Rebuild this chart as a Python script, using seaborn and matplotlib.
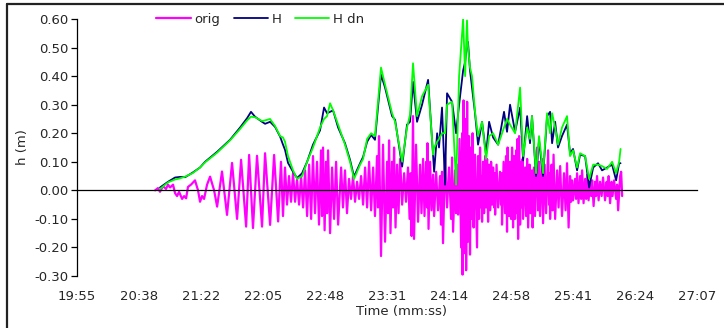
import numpy as np
import pandas as pd
import matplotlib
matplotlib.use("Agg")
import matplotlib.pyplot as plt
import seaborn as sns
from matplotlib.lines import Line2D

# =========================
# DATA  (time = seconds after the 19:55 axis start, h in m)
# =========================
tick_labels = ["19:55", "20:38", "21:22", "22:05", "22:48", "23:31",
               "24:14", "24:58", "25:41", "26:24", "27:07"]
tick_step = 43.2

orig_t = [
    54.4, 56.4, 57.8, 59.9, 62.0, 63.4, 64.8, 66.9, 68.3, 69.7, 71.1, 73.2,
    74.6, 76.0, 77.3, 79.4, 82.2, 84.3, 85.7, 87.1, 88.5, 90.6, 92.7, 95.5,
    97.6, 101.0, 104.5, 108.0, 111.5, 114.3, 117.8, 119.9, 122.6, 125.4, 128.9, 131.0,
    134.5, 137.3, 140.1, 142.1, 143.5, 144.9, 146.3, 147.7, 149.1, 150.5, 151.9, 153.3,
    154.7, 156.1, 157.5, 158.9, 160.3, 161.7, 163.1, 164.4, 165.8, 167.2, 168.6, 170.0,
    170.7, 171.4, 172.5, 173.5, 174.2, 174.9, 176.3, 177.7, 179.1, 180.5, 181.9, 184.0,
    185.3, 186.7, 188.1, 189.5, 190.9, 192.3, 193.7, 195.1, 196.5, 197.9, 199.3, 200.7,
    202.1, 203.5, 204.9, 206.3, 207.6, 209.0, 209.7, 210.4, 211.8, 213.2, 214.6, 216.0,
    216.7, 217.4, 218.4, 219.5, 220.2, 220.9, 221.9, 223.0, 224.0, 225.1, 226.5, 227.9,
    229.2, 230.6, 231.7, 232.4, 233.1, 234.1, 234.8, 236.2, 237.6, 239.0, 240.0, 241.1,
    242.1, 243.2, 243.9, 244.2, 244.9, 246.0, 247.0, 248.1, 248.8, 250.2, 251.5, 252.9,
    253.6, 254.3, 255.0, 256.4, 257.8, 259.2, 260.6, 261.3, 262.0, 263.4, 264.1, 264.8,
    265.5, 266.5, 267.6, 268.3, 268.6, 269.3, 270.0, 270.7, 271.1, 271.8, 272.4, 273.1,
    273.8, 274.5, 275.2, 275.6, 276.3, 277.3, 278.7, 279.4, 280.1, 280.8, 281.5, 281.9,
    282.2, 282.9, 283.6, 284.3, 285.0, 285.7, 286.4, 287.1, 287.8, 288.5, 289.2, 289.9,
    290.6, 290.9, 291.3, 292.3, 293.4, 294.7, 295.4, 295.8, 296.1, 297.2, 298.2, 298.9,
    299.6, 300.0, 301.0, 301.7, 302.4, 303.1, 303.8, 304.5, 305.2, 305.9, 306.6, 306.9,
    307.3, 308.0, 308.7, 309.4, 310.1, 310.4, 310.8, 312.2, 312.9, 313.6, 314.3, 315.3,
    316.0, 317.0, 317.4, 318.4, 319.1, 320.5, 321.2, 321.9, 322.6, 324.0, 324.7, 325.8,
    326.8, 328.2, 328.9, 329.2, 329.6, 330.6, 331.3, 332.0, 333.1, 334.5, 335.5, 336.6,
    337.9, 339.3, 340.4, 341.4, 342.5, 343.5, 344.2, 344.9, 345.6, 347.0, 347.7, 348.4,
    349.4, 350.5, 351.2, 351.9, 352.9, 354.0, 354.7, 355.4, 356.4, 357.5, 358.2, 358.9,
    359.9, 361.0, 361.6, 362.3, 363.4, 364.4, 365.5, 366.5, 367.9, 369.0, 369.7, 370.4,
    371.4, 372.4, 373.1, 374.2, 375.6, 376.3, 377.0, 378.4, 379.1, 379.8,
]
orig_h = [
    0.0, 0.008, -0.005, 0.015, 0.005, 0.02, 0.01, 0.02, -0.01, -0.02, -0.005, -0.03,
    -0.02, -0.028, 0.012, 0.02, 0.035, 0.0, -0.04, -0.02, -0.03, 0.02, 0.048, 0.0,
    -0.057, 0.066, -0.086, 0.096, -0.10, 0.107, -0.127, 0.124, -0.132, 0.121, -0.127, 0.13,
    -0.121, 0.124, -0.109, 0.10, -0.09, 0.08, -0.05, 0.05, -0.04, 0.06, -0.04, 0.04,
    -0.05, 0.05, -0.06, 0.07, -0.09, 0.09, -0.10, 0.12, -0.08, 0.10, -0.12, 0.14,
    -0.09, 0.15, -0.14, 0.10, -0.08, 0.14, -0.15, 0.08, -0.10, 0.10, -0.12, 0.08,
    -0.06, 0.07, -0.08, 0.04, -0.03, 0.05, -0.04, 0.03, -0.03, 0.05, -0.05, 0.08,
    -0.06, 0.10, -0.07, 0.08, -0.09, 0.12, -0.06, 0.19, -0.23, 0.16, -0.18, 0.10,
    -0.08, 0.175, -0.15, 0.10, -0.06, 0.15, -0.13, 0.09, -0.08, 0.11, -0.05, 0.06,
    -0.04, 0.08, -0.10, 0.06, -0.16, 0.26, -0.17, 0.16, -0.11, 0.09, -0.08, 0.11,
    -0.09, 0.10, -0.06, 0.165, -0.135, 0.10, -0.07, 0.055, -0.09, 0.065, -0.07, 0.05,
    -0.12, 0.065, -0.185, 0.115, -0.06, 0.08, -0.10, 0.115, -0.145, 0.07, -0.08, 0.09,
    -0.085, 0.18, -0.20, 0.20, -0.295, 0.315, -0.22, 0.25, -0.28, 0.31, -0.18, 0.19,
    -0.225, 0.15, -0.10, 0.20, -0.13, 0.125, -0.20, 0.12, -0.10, 0.15, -0.06, 0.05,
    -0.11, 0.10, -0.08, 0.12, -0.06, 0.11, -0.11, 0.09, -0.07, 0.10, -0.05, 0.08,
    -0.06, 0.06, -0.085, 0.09, -0.06, 0.065, -0.05, 0.06, -0.12, 0.10, -0.08, 0.12,
    -0.145, 0.15, -0.09, 0.10, -0.10, 0.15, -0.13, 0.12, -0.10, 0.14, -0.08, 0.18,
    -0.17, 0.19, -0.12, 0.10, -0.06, 0.11, -0.10, 0.08, -0.09, 0.11, -0.13, 0.09,
    -0.08, 0.07, -0.13, 0.08, -0.09, 0.15, -0.07, 0.10, -0.09, 0.11, -0.115, 0.09,
    -0.08, 0.14, -0.05, 0.06, -0.10, 0.09, -0.07, 0.125, -0.10, 0.07, -0.06, 0.085,
    -0.09, 0.06, -0.07, 0.095, -0.13, 0.05, -0.04, 0.035, -0.035, 0.04, -0.03, 0.06,
    -0.045, 0.05, -0.03, 0.07, -0.045, 0.04, -0.03, 0.055, -0.035, 0.03, -0.02, 0.035,
    -0.055, 0.03, -0.02, 0.05, -0.035, 0.03, -0.02, 0.045, -0.035, 0.03, -0.02, 0.05,
    -0.045, 0.03, -0.02, 0.035, -0.03, 0.02, -0.07, 0.05, 0.065, -0.02,
]

h_t = [
    57.8, 63.4, 68.3, 71.8, 75.3, 80.5, 85.7, 89.2, 97.6, 106.6, 113.6, 118.5,
    121.2, 124.0, 128.9, 131.0, 134.5, 138.0, 141.5, 143.5, 144.9, 147.0, 150.5, 153.3,
    156.8, 160.3, 164.4, 169.3, 172.1, 174.2, 176.3, 178.4, 181.9, 186.7, 190.2, 193.0,
    197.2, 199.3, 202.1, 204.9, 207.6, 211.8, 214.6, 219.5, 221.6, 226.5, 229.9, 232.0,
    234.1, 236.9, 240.4, 244.6, 248.1, 248.8, 250.9, 252.2, 254.3, 256.4, 257.8, 261.3,
    264.1, 266.2, 269.0, 270.4, 271.7, 272.4, 273.8, 275.2, 277.3, 279.4, 282.2, 285.0,
    287.1, 289.9, 293.4, 297.5, 299.6, 301.7, 305.2, 308.7, 310.8, 313.6, 315.6, 317.0,
    319.8, 321.9, 324.7, 327.5, 329.6, 331.0, 333.1, 335.1, 337.9, 341.4, 343.5, 345.6,
    348.4, 350.5, 354.0, 356.8, 359.6, 363.0, 365.8, 369.3, 372.8, 375.6, 377.7, 378.7,
]
h_H = [
    0.01, 0.03, 0.045, 0.047, 0.046, 0.062, 0.08, 0.10, 0.135, 0.177, 0.22, 0.253,
    0.275, 0.258, 0.24, 0.233, 0.24, 0.222, 0.188, 0.16, 0.142, 0.096, 0.065, 0.043,
    0.06, 0.10, 0.16, 0.21, 0.29, 0.27, 0.275, 0.28, 0.22, 0.165, 0.107, 0.048,
    0.095, 0.117, 0.17, 0.194, 0.177, 0.405, 0.36, 0.26, 0.247, 0.083, 0.23, 0.24,
    0.38, 0.24, 0.30, 0.387, 0.12, 0.065, 0.20, 0.15, 0.29, 0.02, 0.34, 0.31,
    0.20, 0.30, 0.42, 0.45, 0.51, 0.52, 0.42, 0.36, 0.27, 0.16, 0.24, 0.125,
    0.24, 0.185, 0.16, 0.275, 0.205, 0.30, 0.205, 0.29, 0.105, 0.26, 0.165, 0.26,
    0.05, 0.175, 0.05, 0.26, 0.275, 0.165, 0.24, 0.15, 0.19, 0.23, 0.13, 0.145,
    0.07, 0.125, 0.12, 0.01, 0.08, 0.095, 0.07, 0.08, 0.09, 0.035, 0.095, 0.095,
]
h_Hdn = [
    0.005, 0.028, 0.038, 0.042, 0.048, 0.06, 0.08, 0.098, 0.132, 0.175, 0.215, 0.245,
    0.258, 0.256, 0.243, 0.245, 0.25, 0.225, 0.19, 0.185, 0.17, 0.12, 0.07, 0.04,
    0.05, 0.10, 0.15, 0.22, 0.25, 0.26, 0.305, 0.28, 0.23, 0.16, 0.10, 0.04,
    0.09, 0.11, 0.18, 0.20, 0.19, 0.43, 0.37, 0.27, 0.24, 0.10, 0.22, 0.265,
    0.445, 0.26, 0.33, 0.37, 0.125, 0.15, 0.17, 0.18, 0.20, 0.20, 0.30, 0.31,
    0.02, 0.40, 0.60, 0.40, 0.595, 0.50, 0.43, 0.40, 0.275, 0.19, 0.24, 0.11,
    0.19, 0.20, 0.16, 0.22, 0.25, 0.23, 0.20, 0.36, 0.12, 0.22, 0.18, 0.26,
    0.06, 0.19, 0.06, 0.27, 0.20, 0.27, 0.22, 0.16, 0.22, 0.26, 0.12, 0.14,
    0.08, 0.13, 0.12, 0.04, 0.09, 0.09, 0.085, 0.075, 0.10, 0.06, 0.10, 0.145,
]

orig_df = pd.DataFrame({"t": orig_t, "h": orig_h})
h_df = pd.DataFrame({"t": h_t, "H": h_H, "H dn": h_Hdn})

# =========================
# STYLE
# =========================
sns.set_style("white")
plt.rcParams["font.family"] = ["DejaVu Sans"]
plt.rcParams["axes.unicode_minus"] = False
fs = 9.5

fig = plt.figure(figsize=(7.24, 3.28), dpi=100)
ax = fig.add_axes([0.1064, 0.1585, 0.8564, 0.7835])

# =========================
# LINES
# =========================
sns.lineplot(data=orig_df, x="t", y="h", ax=ax, color="#FF00FF", lw=1.6,
             label="orig", sort=False, estimator=None)
sns.lineplot(data=h_df, x="t", y="H", ax=ax, color="#000080", lw=1.3,
             label="H", sort=False, estimator=None)
sns.lineplot(data=h_df, x="t", y="H dn", ax=ax, color="#00FF00", lw=1.3,
             label="H dn", sort=False, estimator=None)

# =========================
# AXES
# =========================
xticks = [i * tick_step for i in range(len(tick_labels))]
ax.set_xlim(xticks[0], xticks[-1])
ax.set_ylim(-0.30, 0.60)

yticks = np.round(np.arange(-0.3, 0.61, 0.1), 2)
ax.set_yticks(yticks)
ax.set_yticklabels([f"{v:.2f}" for v in yticks], fontsize=fs)

for s in ["top", "right"]:
    ax.spines[s].set_visible(False)
ax.spines["bottom"].set_position(("data", 0))
for s in ["left", "bottom"]:
    ax.spines[s].set_color("black")
    ax.spines[s].set_linewidth(0.9)

ax.set_xticks(xticks)
ax.tick_params(axis="x", labelbottom=False, direction="out", length=4,
               width=0.9, color="black")
ax.tick_params(axis="y", direction="out", length=4, width=0.9,
               color="black", pad=2, left=True)

# labels of the time axis sit at the bottom of the plot (Excel "low")
sec = ax.secondary_xaxis("bottom")
sec.set_xticks(xticks)
sec.set_xticklabels(tick_labels, fontsize=fs)
sec.tick_params(length=0, pad=10)
sec.spines["bottom"].set_visible(False)

ax.set_xlabel("")
ax.set_ylabel("h (m)", fontsize=fs)
ax.yaxis.set_label_coords(-0.077, 0.5)
fig.text(401 / 724, 1 - 312 / 328, "Time (mm:ss)", ha="center", va="center",
         fontsize=fs)

ax.legend(loc="center left", bbox_to_anchor=(0.128, 1.0), ncol=3,
          frameon=False, fontsize=fs, handlelength=2.6, handletextpad=0.3,
          columnspacing=1.0, borderaxespad=0, borderpad=0)

# outer chart frame (left and top edges visible)
fig.add_artist(Line2D([6.5 / 724, 6.5 / 724], [0, 1 - 4 / 328],
                      transform=fig.transFigure, color="#222222", lw=1.6))
fig.add_artist(Line2D([6.5 / 724, 1], [1 - 4 / 328, 1 - 4 / 328],
                      transform=fig.transFigure, color="#222222", lw=1.6))

fig.savefig("out.png", dpi=100)
